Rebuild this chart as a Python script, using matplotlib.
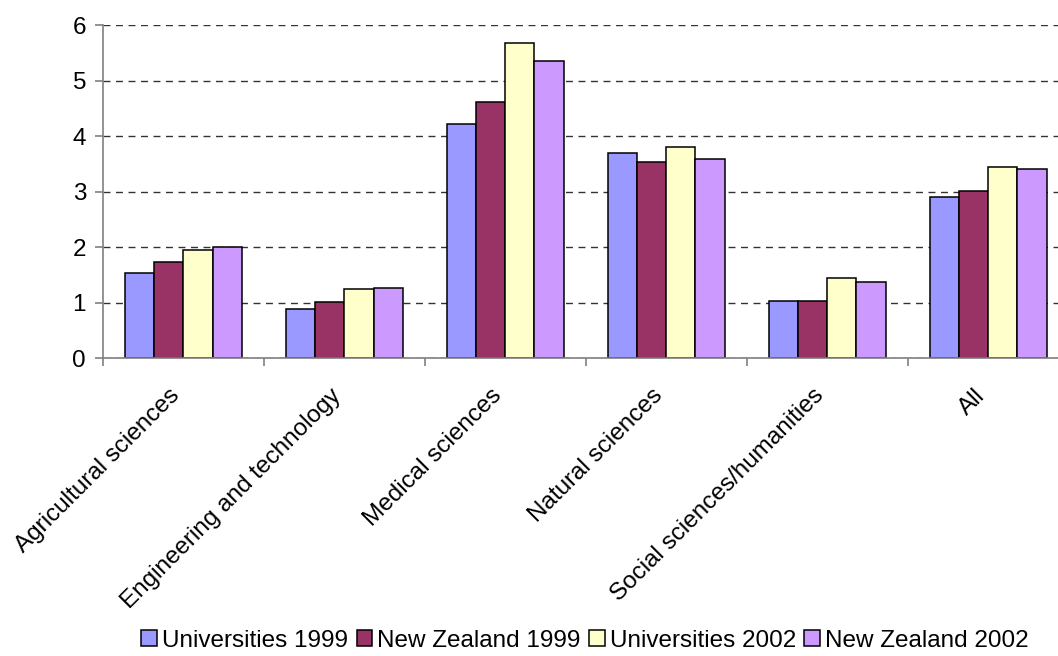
import numpy as np
import matplotlib
matplotlib.use("Agg")
import matplotlib.pyplot as plt

plt.rcParams['font.family'] = ['Liberation Sans', 'DejaVu Sans']

categories = ['Agricultural sciences', 'Engineering and technology', 'Medical sciences',
              'Natural sciences', 'Social sciences/humanities', 'All']
series = ['Universities 1999', 'New Zealand 1999', 'Universities 2002', 'New Zealand 2002']
uni_1999 = [1.54, 0.88, 4.23, 3.70, 1.03, 2.90]
nz_1999 = [1.74, 1.01, 4.62, 3.53, 1.03, 3.01]
uni_2002 = [1.96, 1.25, 5.69, 3.81, 1.45, 3.45]
nz_2002 = [2.01, 1.27, 5.36, 3.60, 1.37, 3.41]
colors = ['#9999FF', '#993366', '#FFFFCC', '#CC99FF']

fs = 17.5

fig = plt.figure(figsize=(10.58, 6.56), dpi=100)
ax = fig.add_axes([0.0971, 0.4538, 0.9029, 0.5076])

x = np.arange(len(categories))
w = 0.182
for i, (vals, name) in enumerate(zip([uni_1999, nz_1999, uni_2002, nz_2002], series)):
    ax.bar(x + (i - 1.5) * w, vals, w, color=colors[i], edgecolor='black',
           linewidth=1.1, label=name, zorder=3)

ax.set_ylim(0, 6)
ax.set_xlim(-0.5, 5.434)
ax.set_yticks(range(7))
ax.yaxis.grid(True, linestyle=(0, (5, 4)), color='#333333', linewidth=1.0, zorder=0)

# category boundary ticks; labels (invisible minor ticks) nudged a bit left
ax.set_xticks(np.arange(len(categories)) - 0.5)
ax.set_xticklabels([])
ax.set_xticks(x - 0.09, minor=True)
ax.set_xticklabels(categories, minor=True, rotation=45, ha='right',
                   rotation_mode='anchor', fontsize=fs)
ax.tick_params(axis='x', which='minor', length=0, pad=19)
ax.tick_params(axis='x', which='major', length=6, width=1.2, color='#808080')
ax.tick_params(axis='y', length=6, width=1.2, color='#808080', labelsize=fs, pad=6)

for s in ['top', 'right']:
    ax.spines[s].set_visible(False)
for s in ['left', 'bottom']:
    ax.spines[s].set_color('#808080')
    ax.spines[s].set_linewidth(1.2)
    ax.spines[s].set_zorder(4)

fig.legend(loc='lower center', bbox_to_anchor=(0.553, -0.016), ncol=4, frameon=False,
           fontsize=fs, handlelength=0.65, handleheight=0.65, handletextpad=0.2,
           columnspacing=0.35, borderaxespad=0.2)

fig.savefig('out.png', dpi=100)
